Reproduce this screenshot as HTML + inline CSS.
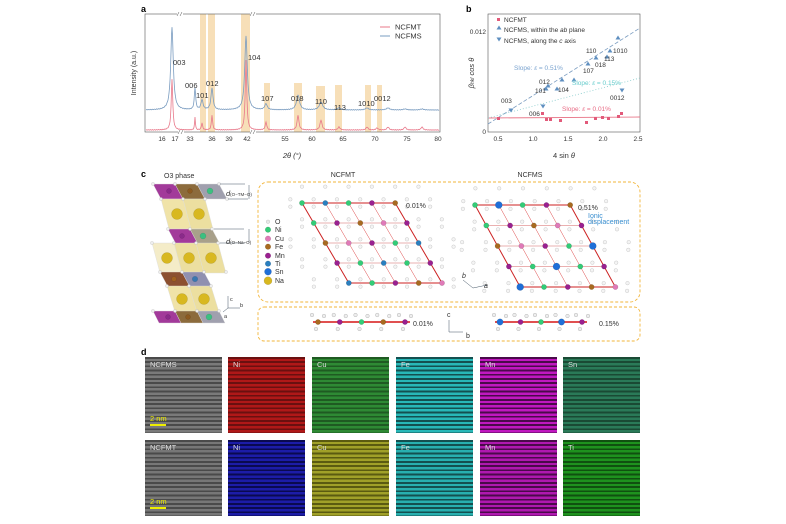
<!DOCTYPE html><html><head><meta charset="utf-8"><style>
body{margin:0;background:#fff;width:786px;height:524px;overflow:hidden;font-family:"Liberation Sans",sans-serif}
svg{position:absolute;left:0;top:0}
.t{position:absolute;left:0;width:77px;height:76px}
</style></head><body>
<svg id="s" width="786" height="524" viewBox="0 0 786 524" font-family="Liberation Sans, sans-serif">
<g font-size="7" fill="#333">
<text x="141" y="12" font-weight="bold" font-size="9" fill="#000">a</text>
<g fill="#f7dfb8">
<rect x="200" y="14" width="6" height="118"/><rect x="208" y="14" width="7" height="118"/>
<rect x="241" y="14" width="9" height="118"/><rect x="264" y="83" width="6" height="49"/>
<rect x="294" y="83" width="8" height="49"/><rect x="316" y="86" width="9" height="46"/>
<rect x="335" y="85" width="7" height="47"/><rect x="365" y="85" width="6" height="47"/>
<rect x="377" y="85" width="5" height="47"/></g>
<rect x="145" y="14" width="295" height="118" fill="none" stroke="#555" stroke-width="0.6"/>
<text x="136" y="73" transform="rotate(-90 136 73)" text-anchor="middle" font-size="7">Intensity (a.u.)</text>
<g text-anchor="middle" font-size="6.5"><text x="162" y="141">16</text><text x="175" y="141">17</text><text x="190" y="141">33</text><text x="212" y="141">36</text><text x="229" y="141">39</text><text x="247" y="141">42</text><text x="285" y="141">55</text><text x="312" y="141">60</text><text x="343" y="141">65</text><text x="375" y="141">70</text><text x="407" y="141">75</text><text x="438" y="141">80</text>
<text x="292" y="158" font-style="italic" font-size="7.5">2θ (°)</text></g>
<path id="bl" fill="none" stroke="#7a9cc0" stroke-width="0.8"/>
<path id="rd" fill="none" stroke="#e8788a" stroke-width="0.8"/>
<g font-size="7.5"><text x="173" y="65">003</text><text x="185" y="88">006</text><text x="196" y="98">101</text><text x="206" y="86">012</text><text x="248" y="60">104</text><text x="261" y="101">107</text><text x="291" y="101">018</text><text x="315" y="104">110</text><text x="334" y="110">113</text><text x="358" y="106">1010</text><text x="374" y="101">0012</text></g>
<line x1="380" y1="27" x2="390" y2="27" stroke="#e8788a"/><text x="395" y="29.5" font-size="7.5">NCFMT</text>
<line x1="380" y1="36" x2="390" y2="36" stroke="#7a9cc0"/><text x="395" y="38.5" font-size="7.5">NCFMS</text>
<text x="466" y="12" font-weight="bold" font-size="9" fill="#000">b</text>
<rect x="488" y="14" width="152" height="118" fill="none" stroke="#555" stroke-width="0.6"/>
<g text-anchor="middle" font-size="6.5"><text x="498" y="141">0.5</text><text x="533" y="141">1.0</text><text x="568" y="141">1.5</text><text x="603" y="141">2.0</text><text x="638" y="141">2.5</text><text x="564" y="158" font-size="7.5">4 sin <tspan font-style="italic">θ</tspan></text></g>
<g text-anchor="end" font-size="6.5"><text x="486" y="34">0.012</text><text x="486" y="134">0</text></g>
<text x="474" y="73" transform="rotate(-90 474 73)" text-anchor="middle" font-size="7.5" font-style="italic">β<tspan font-size="5">hkl</tspan> cos θ</text>
<line x1="488" y1="118" x2="640" y2="117" stroke="#e8788a" stroke-width="0.9"/>
<line x1="488" y1="124" x2="640" y2="28" stroke="#7a9cc0" stroke-width="0.8" stroke-dasharray="4 2"/>
<line x1="488" y1="118" x2="640" y2="78" stroke="#8cc" stroke-width="0.8" stroke-dasharray="1 2"/>
<g fill="#e25a7a"><rect x="497" y="117" width="3" height="3"/><rect x="541" y="112" width="3" height="3"/><rect x="545" y="118" width="3" height="3"/><rect x="549" y="118" width="3" height="3"/><rect x="559" y="119" width="3" height="3"/><rect x="585" y="121" width="3" height="3"/><rect x="594" y="117" width="3" height="3"/><rect x="601" y="116" width="3" height="3"/><rect x="607" y="117" width="3" height="3"/><rect x="617" y="115" width="3" height="3"/><rect x="620" y="112" width="3" height="3"/></g>
<g fill="#5f8fc0" id="tri"></g>
<g font-size="6.5"><rect x="497" y="18" width="3" height="3" fill="#e25a7a"/><text x="504" y="22">NCFMT</text><text x="504" y="32">NCFMS, within the <tspan font-style="italic">ab</tspan> plane</text><text x="504" y="43">NCFMS, along the <tspan font-style="italic">c</tspan> axis</text>
<text x="586" y="53">110</text><text x="613" y="53">1010</text><text x="604" y="61">113</text><text x="595" y="67">018</text><text x="583" y="73">107</text><text x="539" y="84">012</text><text x="535" y="93">101</text><text x="558" y="92">104</text><text x="501" y="103">003</text><text x="529" y="116">006</text><text x="610" y="100">0012</text>
<text x="514" y="70" fill="#7aa3cf">Slope: <tspan font-style="italic">ε</tspan> = 0.51%</text><text x="572" y="85" fill="#6cc">Slope: <tspan font-style="italic">ε</tspan> = 0.15%</text><text x="562" y="111" fill="#e86a84">Slope: <tspan font-style="italic">ε</tspan> = 0.01%</text></g>
<text x="141" y="177" font-weight="bold" font-size="9" fill="#000">c</text>
<text x="164" y="178" font-size="7">O3 phase</text>
<g id="struct"></g>
<text x="226" y="196" font-size="7.5"><tspan font-style="italic">d</tspan><tspan font-size="4.5">(O−TM−O)</tspan></text>
<text x="226" y="244" font-size="7.5"><tspan font-style="italic">d</tspan><tspan font-size="4.5">(O−Na−O)</tspan></text>
<rect x="258" y="182" width="382" height="120" rx="10" fill="none" stroke="#f2b53a" stroke-width="0.9" stroke-dasharray="3 2"/>
<rect x="258" y="307" width="382" height="34" rx="6" fill="none" stroke="#f2b53a" stroke-width="0.9" stroke-dasharray="3 2"/>
<text x="343" y="177" font-size="7" text-anchor="middle">NCFMT</text><text x="530" y="177" font-size="7" text-anchor="middle">NCFMS</text>
<g id="lat"></g>
<g font-size="7"><text x="406" y="208">0.01%</text><text x="578" y="210">0.51%</text><text x="588" y="218" fill="#3a8fd0">Ionic</text><text x="588" y="224" fill="#3a8fd0">displacement</text>
<text x="413" y="326">0.01%</text><text x="599" y="326">0.15%</text>
<text x="462" y="278" font-style="italic">b</text><text x="484" y="288" font-style="italic">a</text>
<text x="447" y="317">c</text><text x="466" y="338">b</text></g>
<path d="M463 280 l10 8 l14 -3" fill="none" stroke="#456" stroke-width="0.5"/>
<path d="M449 320 v12 h14" fill="none" stroke="#456" stroke-width="0.5"/>
<path d="M228 296 v12 h12 M228 308 l-5 4" fill="none" stroke="#456" stroke-width="0.5"/>
<text x="230" y="301" font-size="5.5">c</text><text x="240" y="307" font-size="5.5">b</text><text x="224" y="318" font-size="5.5">a</text>
<text x="141" y="355" font-weight="bold" font-size="9" fill="#000">d</text>
</g>
</svg>
<div id="d"></div>
<script>
var s=document.getElementById('s'),NS='http://www.w3.org/2000/svg';
function el(t,a,p){var e=document.createElementNS(NS,t);for(var k in a)e.setAttribute(k,a[k]);(p||s).appendChild(e);return e}
var pk=[[172,27,79,1.5],[195,88,117,0.8],[202,100,123,1.2],[212,88,115,1.2],[246,36,60,1.5],[266,104,122,1.5],[298,95,115,1.8],[321,102,120,2],[339,108,127,2],[367,108,127,2],[377,110,128,2],[388,108,127,2],[405,109,127,2],[422,109,127,2]];
function spec(base,idx){var d='';for(var x=146;x<=439;x+=0.5){var y=base;pk.forEach(function(p){var h=base-p[idx];var w=p[3]*(idx==2?0.6:1);y-=h/(1+((x-p[0])/w)*((x-p[0])/w))});y+=Math.sin(x*3)*0.3;d+=(d?'L':'M')+x+' '+y.toFixed(2)}return d}
document.getElementById('bl').setAttribute('d',spec(110,1));
document.getElementById('rd').setAttribute('d',spec(130,2));
[[180,14],[181,132],[253,14],[253,132]].forEach(function(b){el('rect',{x:b[0]-3,y:b[1]-2,width:6,height:4,fill:'#fff'});el('path',{d:'M'+(b[0]-3)+' '+(b[1]+2)+'l2 -4 M'+(b[0])+' '+(b[1]+2)+'l2 -4',stroke:'#555','stroke-width':0.5})});
var tg=document.getElementById('tri');
function tri(x,y,up){el('path',{d:up?'M'+x+' '+(y-2.5)+'l2.5 4h-5z':'M'+x+' '+(y+2.5)+'l2.5 -4h-5z',fill:'#5f8fc0'},tg)}
[[618,38],[610,51],[607,57],[596,58],[588,64],[574,80],[562,80],[557,89],[548,86],[546,89]].forEach(function(p){tri(p[0],p[1],1)});
[[511,110],[543,106],[622,90]].forEach(function(p){tri(p[0],p[1],0)});
tri(499,28,1);tri(499,39,0);
var st=document.getElementById('struct');
function par(x,y,w,h,sk,f){el('path',{d:'M'+x+' '+y+'h'+w+'l'+sk+' '+h+'h'+(-w)+'z',fill:f,stroke:'#ddd','stroke-width':0.4},st)}
function ball(x,y,r,c){el('circle',{cx:x,cy:y,r:r,fill:c,stroke:'rgba(0,0,0,0.25)','stroke-width':0.3},st)}
par(153,184,22,15,8,'#a23a9a');par(175,184,22,15,8,'#8c6b3c');par(197,184,22,15,8,'#a0a0ae');
ball(169,191,2.5,'#8a2a8a');ball(190,191,2.5,'#8c5a20');ball(210,191,3,'#3cc080');
par(161,199,22,30,8,'#f0e3a8');par(183,199,22,30,8,'#ecdfa0');ball(177,214,5.5,'#d8b820');ball(199,214,5.5,'#d8b820');
par(168,229,22,15,8,'#a23a9a');par(190,229,22,15,8,'#a8a08a');ball(182,236,2.5,'#8a2a8a');ball(203,236,3,'#3cc080');
par(152,243,22,30,8,'#f4ecc8');par(174,243,22,30,8,'#ecdfa0');par(196,243,22,30,8,'#ecdfa0');ball(167,258,5.5,'#d8b820');ball(189,258,5.5,'#d8b820');ball(211,258,5.5,'#d8b820');
par(160,272,22,15,8,'#8c5030');par(182,272,22,15,8,'#9090b0');ball(174,279,2.5,'#a06020');ball(195,279,2.8,'#3a78b0');
par(167,286,22,26,8,'#f0e3a8');par(189,286,22,26,8,'#ecdfa0');ball(182,299,5.5,'#d8b820');ball(204,299,5.5,'#d8b820');
par(153,311,22,12,6,'#a23a9a');par(175,311,22,12,6,'#8c6b3c');par(197,311,22,12,6,'#a0a0ae');ball(168,317,2.5,'#8a2a8a');ball(188,317,2.5,'#8c5a20');ball(209,317,3,'#3cc080');
[[153,184],[175,184],[197,184],[219,184],[161,199],[183,199],[205,199],[227,199],[168,229],[190,229],[212,229],[152,243],[174,243],[196,243],[218,243],[160,272],[182,272],[204,272],[226,272],[167,286],[189,286],[211,286],[153,311],[175,311],[197,311],[219,311]].forEach(function(p){ball(p[0],p[1],1.6,'#eee')});
el('path',{d:'M220 184h25M228 199h20M214 229h30M220 243h25M249 185v14M249 229v14',stroke:'#456','stroke-width':0.5,fill:'none'},st);
var lg=[['O','#e8e8e8',1.8],['Ni','#33cc77',2.8],['Cu','#e07ab8',2.8],['Fe','#a86a20',2.8],['Mn','#9a2090',2.8],['Ti','#2a7fbf',2.8],['Sn','#1f6fd8',3.5],['Na','#d8b820',4]];
var ly=[224,232,241,249,258,266,274,283];
lg.forEach(function(l,i){el('circle',{cx:268,cy:ly[i]-2.3,r:l[2],fill:l[1],stroke:'rgba(0,0,0,0.3)','stroke-width':0.3});var t=el('text',{x:275,y:ly[i],'font-size':7,fill:'#333'});t.textContent=l[0]});
var lat=document.getElementById('lat');
function lattice(ox,oy,ax,dx,dy,rows,cols,col,big){
 for(var j=-1;j<=rows;j++)for(var i=-2;i<=cols+1;i++){[[1/3,1/3],[2/3,2/3]].forEach(function(f){var x=ox+(i+f[0])*ax+(j+f[1])*dx,y=oy+(j+f[1])*dy-(f[0]==1/3?3:-3);if(x>ox-20&&x<ox+cols*ax+rows*dx+22&&y>oy-20&&y<oy+rows*dy+16)el('circle',{cx:x,cy:y,r:1.8,fill:'#f4f4f4',stroke:'#aaa','stroke-width':0.3},lat)})}
 for(var j=1;j<rows;j++)el('line',{x1:ox+j*dx,y1:oy+j*dy,x2:ox+j*dx+cols*ax,y2:oy+j*dy,stroke:'#eab0b0','stroke-width':0.9},lat);
 for(var i=1;i<cols;i++)el('line',{x1:ox+i*ax,y1:oy,x2:ox+i*ax+rows*dx,y2:oy+rows*dy,stroke:'#d44','stroke-width':0.5},lat);
 el('path',{d:'M'+ox+' '+oy+'l'+cols*ax+' 0l'+rows*dx+' '+rows*dy+'l'+(-cols*ax)+' 0z',fill:'none',stroke:'#cc2222','stroke-width':1},lat);
 for(var j=0;j<=rows;j++)for(var i=0;i<=cols;i++){var c=col[(i+2*j)%col.length];var r=(c=='#1f6fd8'&&big)?3.5:2.6;el('circle',{cx:ox+i*ax+j*dx,cy:oy+j*dy,r:r,fill:c,stroke:'rgba(0,0,0,0.35)','stroke-width':0.3},lat)}
}
lattice(302,203,23.3,11.7,20,4,4,['#33cc77','#2a7fbf','#33cc77','#9a2090','#a86a20','#e07ab8','#9a2090'],0);
lattice(475,205,23.8,11.3,20.5,4,4,['#33cc77','#1f6fd8','#33cc77','#9a2090','#a86a20','#e07ab8','#9a2090'],1);
function chain(x0,x1,y,cols){el('line',{x1:x0,y1:y,x2:x1,y2:y,stroke:'#e05050','stroke-width':2},lat);var n=cols.length;for(var k=0;k<n;k++){var x=x0+5+k*(x1-x0-10)/(n-1);el('circle',{cx:x,cy:y,r:(cols[k]=='#1f6fd8'?3.2:2.6),fill:cols[k],stroke:'rgba(0,0,0,.3)','stroke-width':0.3},lat);el('circle',{cx:x-6,cy:y-7,r:1.8,fill:'#eee',stroke:'#888','stroke-width':0.3},lat);el('circle',{cx:x-2,cy:y+7,r:1.8,fill:'#eee',stroke:'#888','stroke-width':0.3},lat);el('circle',{cx:x+6,cy:y-6,r:1.8,fill:'#eee',stroke:'#888','stroke-width':0.3},lat)}}
chain(313,410,322,['#a86a20','#9a2090','#33cc77','#a86a20','#9a2090']);
chain(495,587,322,['#1f6fd8','#9a2090','#33cc77','#1f6fd8','#9a2090']);
var d=document.getElementById('d');
var cols=[[['#4a4a4a','#7a7a7a','NCFMS'],['#6a1010','#b01818','Ni'],['#1f5a22','#2e8a34','Cu'],['#145050','#28b8b8','Fe'],['#4a0a4a','#c018c0','Mn'],['#1a4a34','#2a7a58','Sn']],
 [['#4a4a4a','#777','NCFMT'],['#0a0a50','#1c1ca8','Ni'],['#5a5a10','#a0a028','Cu'],['#145050','#28b0b0','Fe'],['#4a0a4a','#b018b0','Mn'],['#105010','#1e921e','Ti']]];
var xs=[145,228,312,396,480,563],ys=[357,440];
cols.forEach(function(row,r){row.forEach(function(c,i){var t=document.createElement('div');t.className='t';t.style.left=xs[i]+'px';t.style.top=ys[r]+'px';t.style.background='repeating-linear-gradient(180deg,'+c[0]+' 0,'+c[0]+' 1.8px,'+c[1]+' 1.8px,'+c[1]+' 4.2px)';t.innerHTML='<span style="position:absolute;left:5px;top:3px;font-size:7.5px;color:#ddd">'+c[2]+'</span>'+(i==0?'<span style="position:absolute;left:5px;top:57px;font-size:7.5px;color:#ee0">2 nm</span><div style="position:absolute;left:5px;top:67px;width:16px;height:2px;background:#ee0"></div>':'');d.appendChild(t)})});
</script>
</body></html>
